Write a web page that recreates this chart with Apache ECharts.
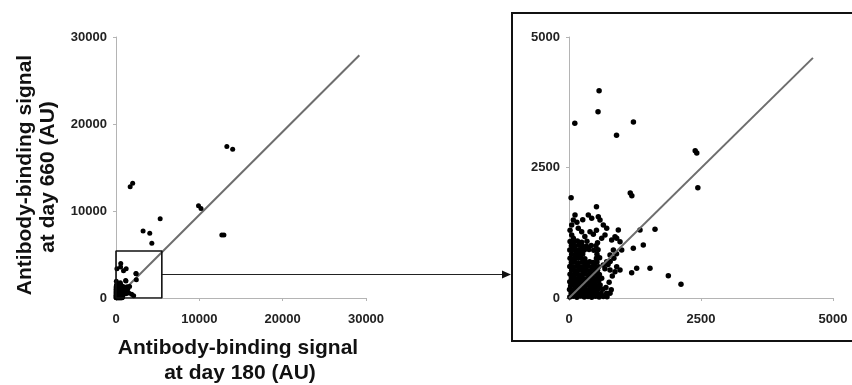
<!DOCTYPE html>
<html><head><meta charset="utf-8">
<script src="https://cdn.jsdelivr.net/npm/echarts@6/dist/echarts.min.js"></script>
<style>html,body{margin:0;padding:0;background:#fff}#c{width:852px;height:385px}</style>
</head><body><div id="c"></div>
<script>
// ---- data (antibody-binding signal: [day 180, day 660]) ----
const outliers = [[13300,17400],[14000,17100],[1700,12800],[2000,13200],[5300,9100],[9900,10600],[10200,10300],[12700,7250],[12950,7230],[3250,7700],[4050,7450],[4300,6300]];
const upperPoints = [[570,3970],[550,3570],[110,3350],[1220,3370],[900,3120],[2390,2820],[2420,2780],[2440,2110],[1160,2010],[1190,1960],[40,1920],[520,1750]];
const sparsePoints = [[51,1207],[82,1144],[176,1335],[240,1270],[398,1270],[461,1220],[619,1144],[682,1207],[51,1398],[82,1494],[114,1590],[366,1590],[430,1527],[555,1557],[587,1494],[650,1398],[714,1335],[808,1111],[871,1175],[934,1303],[903,1144],[966,1079],[1345,1303],[1629,1316],[1407,1015],[1218,952],[840,920],[777,824],[998,920],[150,1450],[300,1180],[520,1300],[20,1300],[260,1500]];
const belowPoints = [[1534,569],[1282,569],[1187,485],[903,600],[966,536],[871,504],[777,536],[1881,427],[2121,262],[714,90],[777,90],[714,695],[650,632],[619,377],[760,300],[700,200],[820,420],[680,560],[780,700],[850,760],[900,850],[740,640],[800,160]];
const densePoints = [
[15,20],[80,35],[150,15],[220,40],[290,20],[360,30],[430,15],[500,35],[570,20],[650,30],[720,25],
[40,95],[110,80],[180,100],[250,85],[320,95],[390,80],[460,100],[540,90],[610,85],
[10,165],[70,150],[140,170],[210,155],[280,170],[350,150],[420,165],[490,160],[560,175],[640,170],
[30,230],[100,240],[170,225],[240,245],[310,230],[380,240],[450,225],[520,235],[590,250],
[15,310],[80,295],[150,305],[220,300],[290,315],[360,295],[430,310],[500,300],[560,320],
[45,385],[120,375],[190,390],[260,380],[330,370],[400,395],[470,380],[540,385],
[20,455],[90,450],[160,460],[230,445],[300,465],[370,450],[440,455],[510,470],[575,450],
[50,530],[120,520],[190,540],[260,525],[330,535],[400,520],[470,545],[540,530],
[15,605],[80,600],[150,610],[220,595],[290,605],[360,615],[430,600],[500,610],[560,600],
[45,680],[110,690],[180,675],[250,685],[320,680],[390,695],[460,680],[530,690],
[20,760],[90,755],[160,770],[230,765],[300,750],[520,760],[580,770],
[50,840],[120,835],[190,850],[260,845],[530,840],
[15,920],[80,925],[150,915],[220,930],[290,920],[380,930],[470,915],[550,925],
[45,1000],[110,995],[180,1010],[250,1000],[330,990],[420,1005],[510,1000],
[20,1080],[90,1075],[160,1090],[240,1070],[340,1085],[540,1060]
];
const allPoints = outliers.concat(upperPoints, sparsePoints, belowPoints, densePoints);
const leftDiagonal = [[0,0],[29200,27900]];
const rightDiagonal = [[0,0],[4620,4600]];
const zoomBox = [[0,0],[5500,0],[5500,5400],[0,5400],[0,0]];
const arrowDataY = 2760;
const leftTicks = {min:0, max:30000, interval:10000};
const rightTicks = {min:0, max:5000, interval:2500};
const xTitle = ['Antibody-binding signal','at day 180 (AU)'];
const yTitle = ['Antibody-binding signal','at day 660 (AU)'];

const chart = echarts.init(document.getElementById('c'), null, {renderer:'canvas'});
const labelBase = {fontFamily:'Liberation Sans, Arial', fontWeight:'bold', fontSize:13, color:'#222', formatter:function(v){return String(v);}};
const axisCommon = {
  axisLine:{lineStyle:{color:'#b4b4b4', width:1}},
  axisTick:{show:true, length:3, lineStyle:{color:'#b4b4b4'}},
  splitLine:{show:false}
};
function xa(grid, t){return Object.assign({type:'value', gridIndex:grid, min:t.min, max:t.max, interval:t.interval}, axisCommon, {axisLabel:Object.assign({}, labelBase, {margin:15})});}
function ya(grid, t){return Object.assign({type:'value', gridIndex:grid, min:t.min, max:t.max, interval:t.interval}, axisCommon, {axisLabel:Object.assign({}, labelBase, {margin:9})});}
const titleFont = 'bold 21px "Liberation Sans", Arial, sans-serif';
chart.setOption({
  animation:false,
  grid:[{left:116, top:37, width:250, height:261},{left:569, top:37, width:264, height:261}],
  xAxis:[xa(0,leftTicks), xa(1,rightTicks)],
  yAxis:[ya(0,leftTicks), ya(1,rightTicks)],
  series:[
    {type:'line', xAxisIndex:0, yAxisIndex:0, data:leftDiagonal, symbol:'none', lineStyle:{color:'#6e6e6e', width:2}, z:1},
    {type:'line', xAxisIndex:1, yAxisIndex:1, data:rightDiagonal, symbol:'none', lineStyle:{color:'#6e6e6e', width:2}, z:3},
    {type:'scatter', xAxisIndex:0, yAxisIndex:0, data:allPoints, symbolSize:5, itemStyle:{color:'#000', opacity:1}, z:2},
    {type:'scatter', xAxisIndex:1, yAxisIndex:1, data:allPoints, symbolSize:5.5, itemStyle:{color:'#000', opacity:1}, clip:true, z:2},
    {type:'line', xAxisIndex:0, yAxisIndex:0, data:zoomBox, symbol:'none', lineStyle:{color:'#111', width:1.6}, z:3}
  ]
});
const p = chart.convertToPixel({gridIndex:0}, [zoomBox[1][0], arrowDataY]);
const ay = Math.round(p[1]) + 0.5;
chart.setOption({
  graphic:[
    {type:'text', x:238, y:348, style:{text:xTitle[0], font:titleFont, fill:'#111', textAlign:'center', textVerticalAlign:'middle'}},
    {type:'text', x:240, y:373, style:{text:xTitle[1], font:titleFont, fill:'#111', textAlign:'center', textVerticalAlign:'middle'}},
    {type:'text', x:25, y:175, rotation:Math.PI/2, style:{text:yTitle[0], font:titleFont, fill:'#111', textAlign:'center', textVerticalAlign:'middle'}},
    {type:'text', x:48, y:177, rotation:Math.PI/2, style:{text:yTitle[1], font:titleFont, fill:'#111', textAlign:'center', textVerticalAlign:'middle'}},
    {type:'rect', shape:{x:512, y:13, width:345, height:328}, style:{fill:'none', stroke:'#111', lineWidth:2}},
    {type:'line', shape:{x1:p[0], y1:ay, x2:503, y2:ay}, style:{stroke:'#222', lineWidth:1.2}},
    {type:'polygon', shape:{points:[[502,ay-4],[511,ay],[502,ay+4]]}, style:{fill:'#111'}}
  ]
});
</script></body></html>
